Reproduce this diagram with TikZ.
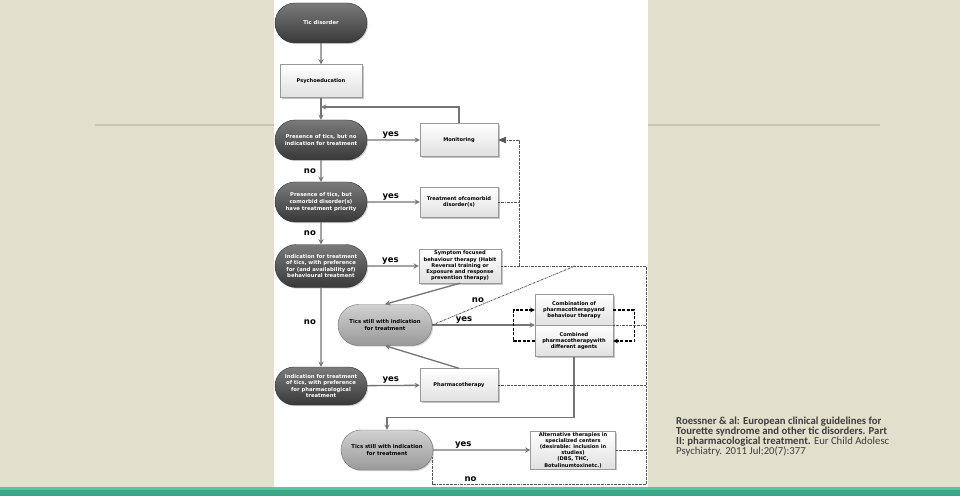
\documentclass[tikz,border=0pt]{standalone}
\usepackage{fontspec}
\setsansfont{DejaVu Sans}
\newfontfamily\citefont{Carlito}
\usepackage{xcolor}
\usepackage{tikz}
\usetikzlibrary{shapes.misc, shadows, arrows}

\definecolor{slidebg}{HTML}{E2DFCD}
\definecolor{slidebar}{HTML}{38A888}
\definecolor{slidebarlight}{HTML}{58C4A2}
\definecolor{ruleline}{HTML}{C9C6B1}
\definecolor{connector}{HTML}{747474}
\definecolor{feedback}{HTML}{555555}
\definecolor{citetext}{HTML}{3E3E3E}

\begin{document}
\begin{tikzpicture}[x=1pt, y=1pt, node distance=60pt]

\tikzstyle{darkstop} = [rounded rectangle, minimum width=94pt, minimum height=40pt, inner sep=1pt, align=center, draw=black!80, top color=black!52, bottom color=black!78, text=white, font=\sffamily\bfseries\fontsize{5.3}{6.6}\selectfont, drop shadow={shadow xshift=1.2pt, shadow yshift=-1.2pt, opacity=0.35}]
\tikzstyle{lightstop} = [darkstop, top color=black!18, bottom color=black!40, draw=black!55, text=black]
\tikzstyle{block} = [rectangle, minimum width=78pt, minimum height=33pt, inner sep=1pt, align=center, draw=black!40, top color=white, bottom color=black!12, font=\sffamily\bfseries\fontsize{5.1}{6.2}\selectfont, drop shadow={shadow xshift=1.5pt, shadow yshift=-1.5pt, opacity=0.45}]
\tikzstyle{arrow} = [line width=1.3pt, draw=connector, ->, >=stealth]
\tikzstyle{fbline} = [line width=0.8pt, draw=feedback, dash pattern=on 2pt off 0.8pt on 0.6pt off 0.8pt, >=triangle 45]
\tikzstyle{loopline} = [line width=1.1pt, draw=black, dash pattern=on 3pt off 1.5pt, ->, >=stealth]
\tikzstyle{lbl} = [font=\sffamily\bfseries\fontsize{8.5}{9}\selectfont, inner sep=1.5pt]

% slide background
\fill[slidebg] (0,0) rectangle (960,496);
\useasboundingbox (0,0) rectangle (960,496);
\draw[ruleline, line width=1.4pt] (95,371) -- (880,371);
\fill[slidebar] (0,0) rectangle (960,9);
\fill[slidebarlight] (0,6) rectangle (960,9);
\fill[white] (274,9) rectangle (648,496);

% main column
\node (tic) [darkstop] at (321,473) {Tic disorder};
\node (psycho) [block, below of=tic, yshift=2pt, minimum width=82pt] {Psychoeducation};
\node (presence1) [darkstop, below of=psycho, yshift=1pt] {Presence of tics, but no\\indication for treatment};
\node (presence2) [darkstop, below of=presence1, yshift=-2pt] {Presence of tics, but\\comorbid disorder(s)\\have treatment priority};
\node (indbeh) [darkstop, below of=presence2, yshift=-4pt, minimum height=43pt] {Indication for treatment\\of tics, with preference\\for (and availability of)\\behavioural treatment};
\node (indpharm) [darkstop, below of=indbeh, node distance=120pt, minimum height=38pt] {Indication for treatment\\of tics, with preference\\for pharmacological\\treatment};

% treatment boxes
\node (monitor) [block, right of=presence1, node distance=138pt] {Monitoring};
\node (comorbid) [block, right of=presence2, node distance=138pt, minimum height=30pt] {Treatment ofcomorbid\\disorder(s)};
\node (symptom) [block, right of=indbeh, node distance=139pt, minimum width=82pt, minimum height=34pt] {Symptom focused\\behaviour therapy (Habit\\Reversal training or\\Exposure and response\\prevention therapy)};
\node (pharma) [block, right of=indpharm, node distance=138pt, yshift=1pt] {Pharmacotherapy};

% second line
\node (tics1) [lightstop, below of=indbeh, node distance=59pt, xshift=64pt, minimum width=96pt, minimum height=41pt] {Tics still with indication\\for treatment};
\node (comb1) [block, right of=tics1, node distance=189pt, yshift=15pt, minimum height=31pt, drop shadow={opacity=0}] {Combination of\\pharmacotherapyand\\behaviour therapy};
\node (comb2) [block, below of=comb1, node distance=31pt, minimum height=31pt] {Combined\\pharmacotherapywith\\different agents};
\node (tics2) [lightstop, below of=tics1, node distance=125pt, xshift=2pt] {Tics still with indication\\for treatment};
\node (alt) [block, right of=tics2, node distance=186pt, minimum width=85pt, minimum height=36pt] {Alternative therapies in\\specialized centers\\(desirable: inclusion in\\studies)\\(DBS, THC,\\Botulinumtoxinetc.)};

\coordinate (reentry) at (321,389);
\coordinate (fbrise) at (519,230);
\coordinate (fbjoin) at (575,230);
\coordinate (fbcorner) at (646,230);
\coordinate (fbbottom) at (646,12);

% main arrows
\draw [arrow] (tic) -- (psycho);
\draw [arrow] (psycho) -- (presence1);
\draw [arrow] (presence1) -- node[lbl, left=3pt] {no} (presence2);
\draw [arrow] (presence2) -- node[lbl, left=3pt] {no} (indbeh);
\draw [arrow] (indbeh) -- node[lbl, left=3pt, pos=0.44] {no} (indpharm);
\draw [arrow] (presence1) -- node[lbl, above, pos=0.45] {yes} (monitor);
\draw [arrow] (presence2) -- node[lbl, above, pos=0.45] {yes} (comorbid);
\draw [arrow] (indbeh) -- node[lbl, above, pos=0.45] {yes} (symptom);
\draw [arrow] (indpharm) -- node[lbl, above, pos=0.45] {yes} (pharma);
\draw [arrow] (monitor.north) |- (reentry);
\draw [arrow] (symptom.south) -- (tics1.north);
\draw [arrow] (pharma.north) -- (tics1.south);
\draw [arrow] (tics1.east) -- node[lbl, above, pos=0.31] {yes} (tics1.east -| comb1.west);
\draw [arrow] (comb2.south) -- ++(0,-61) -| (tics2.north);
\draw [arrow] (tics2) -- node[lbl, above, pos=0.31] {yes} (alt);

% alternating combined treatments
\draw [loopline] (comb2.west) -- ++(-21,0) |- (comb1.west);
\draw [loopline] (comb1.east) -- ++(21,0) |- (comb2.east);

% feedback to monitoring
\draw [fbline, ->] (fbrise) |- (monitor.east);
\draw [fbline] (comorbid.east) -- (comorbid.east -| fbrise);
\draw [fbline] (symptom.east) -- (fbcorner) -- (fbbottom);
\draw [fbline] (tics1.east) -- node[lbl, above=2pt, pos=0.32, text=black] {no} (fbjoin);
\draw [fbline] (comb1.south east) -- (comb1.south east -| fbcorner);
\draw [fbline] (pharma.east) -- (pharma.east -| fbcorner);
\draw [fbline] (alt.east) -- (alt.east -| fbcorner);
\draw [fbline] (tics2.-9) |- node[lbl, above, pos=0.59, text=black] {no} (fbbottom);

% reference
\node (cite) [anchor=north west, align=left, text=citetext, inner sep=0pt, font=\citefont\fontsize{10.7}{10}\selectfont] at (676,79) {\textbf{Roessner \& al: European clinical guidelines for}\\\textbf{Tourette syndrome and other tic disorders. Part}\\\textbf{II: pharmacological treatment.} Eur Child Adolesc\\Psychiatry. 2011 Jul;20(7):377};

\end{tikzpicture}
\end{document}
